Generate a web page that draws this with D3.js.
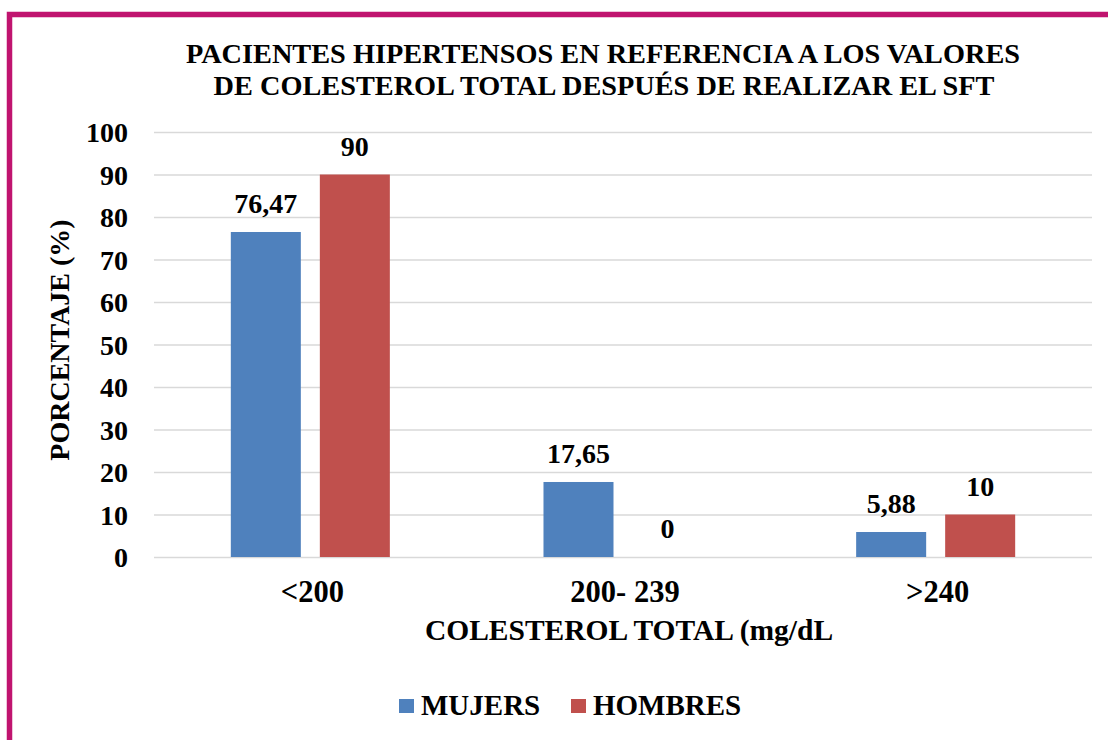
<!DOCTYPE html>
<html>
<head>
<meta charset="utf-8">
<script src="https://cdn.jsdelivr.net/npm/d3@7"></script>
</head>
<body style="margin:0">
<script>

let width = 1108,
    height = 740;

// data
let categories = ["<200", "200- 239", ">240"];
let seriesNames = ["MUJERS", "HOMBRES"];
let mujeres = [76.47, 17.65, 5.88];
let hombres = [90, 0, 10];
let valueLabels = [["76,47", "17,65", "5,88"], ["90", "0", "10"]];
let yTicks = [0, 10, 20, 30, 40, 50, 60, 70, 80, 90, 100];
let colors = ["#4F81BD", "#C0504D"];

let plot = { left: 154, right: 1092, top: 132, bottom: 557 };

let svg = d3.select("body").append("svg")
    .attr("width", width)
    .attr("height", height);

svg.append("rect")
    .attr("width", width).attr("height", height)
    .attr("fill", "#fff");

// magenta frame
svg.append("rect")
    .attr("x", 9.5).attr("y", 14.5)
    .attr("width", 1200).attr("height", 800)
    .attr("fill", "none")
    .attr("stroke", "#C0146F")
    .attr("stroke-width", 5.5);

let y = d3.scaleLinear().domain([0, 100]).range([plot.bottom, plot.top]);

let x0 = d3.scaleBand().domain(categories).range([plot.left, plot.right]).padding(0);
let x1 = d3.scaleBand().domain(seriesNames).range([0, x0.bandwidth()])
    .paddingInner(0.2135).paddingOuter(0.863);

function serif(sel, size) {
  sel.style("font-family", "'Liberation Serif'")
     .attr("font-weight", "bold")
     .attr("font-size", size || 28)
     .attr("fill", "#000");
}

// grid + y ticks
let yAxis = svg.append("g")
    .attr("transform", "translate(" + plot.left + ",0)")
    .call(d3.axisLeft(y).tickValues(yTicks).tickSize(-(plot.right - plot.left)).tickPadding(26));
yAxis.select(".domain").remove();
yAxis.selectAll(".tick line").attr("stroke", "#d9d9d9").attr("stroke-width", 1.5);
yAxis.selectAll(".tick text").attr("dy", "0.35em").call(serif, 28);

// bars
let rows = categories.map(function(c, i) {
  return { cat: c, values: [mujeres[i], hombres[i]], labels: [valueLabels[0][i], valueLabels[1][i]] };
});

let groups = svg.selectAll(".grp")
    .data(rows)
    .enter().append("g")
    .attr("class", "grp")
    .attr("transform", function(d) { return "translate(" + x0(d.cat) + ",0)"; });

groups.selectAll("rect")
    .data(function(d) { return d.values.map(function(v, j) { return { s: seriesNames[j], v: v, j: j }; }); })
    .enter().append("rect")
    .attr("x", function(d) { return x1(d.s); })
    .attr("width", x1.bandwidth())
    .attr("y", function(d) { return y(d.v); })
    .attr("height", function(d) { return y(0) - y(d.v); })
    .attr("fill", function(d) { return colors[d.j]; });

groups.selectAll(".lbl")
    .data(function(d) { return d.values.map(function(v, j) { return { s: seriesNames[j], v: v, t: d.labels[j] }; }); })
    .enter().append("text")
    .attr("class", "lbl")
    .attr("x", function(d) { return x1(d.s) + x1.bandwidth() / 2; })
    .attr("y", function(d) { return y(d.v) - 19; })
    .attr("text-anchor", "middle")
    .call(serif, 28)
    .text(function(d) { return d.t; });

// category labels
let xAxis = svg.append("g")
    .attr("transform", "translate(0," + plot.bottom + ")")
    .call(d3.axisBottom(x0).tickSize(0).tickPadding(0));
xAxis.select(".domain").remove();
xAxis.selectAll(".tick text")
    .attr("x", 2).attr("y", 45).attr("dy", 0)
    .call(serif, 30.5);

// titles
svg.append("text")
    .attr("x", 603).attr("y", 63)
    .attr("text-anchor", "middle").call(serif, 28.3)
    .text("PACIENTES HIPERTENSOS EN REFERENCIA A LOS VALORES");
svg.append("text")
    .attr("x", 604).attr("y", 95)
    .attr("text-anchor", "middle").call(serif, 28.3)
    .text("DE COLESTEROL TOTAL DESPUÉS DE REALIZAR EL SFT");

svg.append("text")
    .attr("transform", "translate(69,340) rotate(-90)")
    .attr("text-anchor", "middle").call(serif, 28)
    .text("PORCENTAJE (%)");

svg.append("text")
    .attr("x", 629).attr("y", 640)
    .attr("text-anchor", "middle").call(serif, 29.5)
    .text("COLESTEROL TOTAL (mg/dL");

// legend
let legendX = [399, 571];
let legend = svg.selectAll(".leg")
    .data(seriesNames)
    .enter().append("g")
    .attr("class", "leg")
    .attr("transform", function(d, i) { return "translate(" + legendX[i] + ",699)"; });
legend.append("rect")
    .attr("width", 15).attr("height", 14)
    .attr("fill", function(d, i) { return colors[i]; });
legend.append("text")
    .attr("x", 22).attr("y", 16)
    .call(serif, 29)
    .text(function(d) { return d; });

</script>
</body>
</html>
